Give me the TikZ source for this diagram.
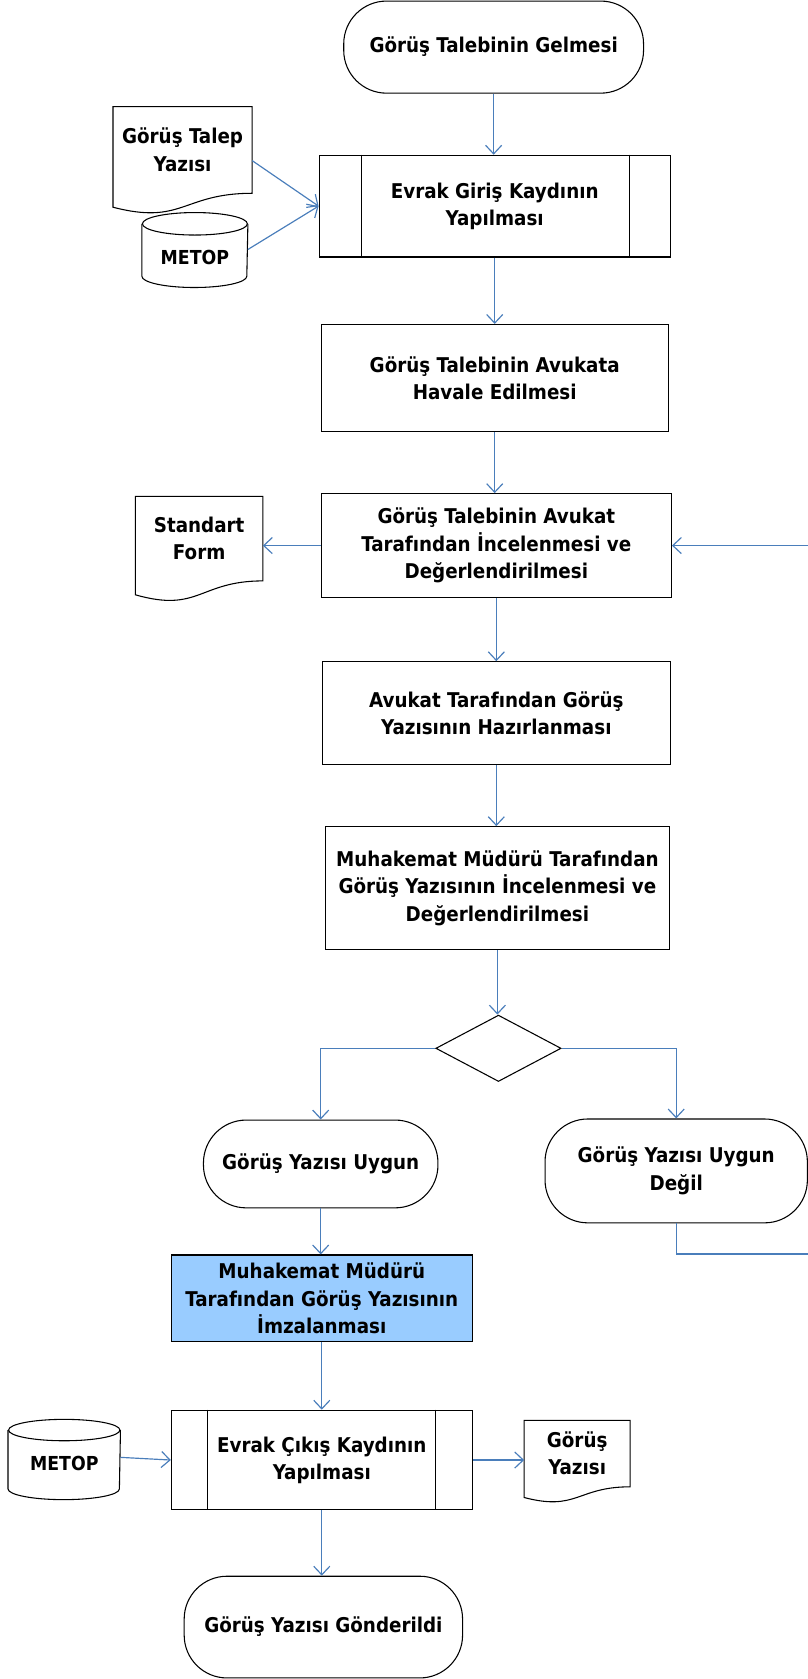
\documentclass[tikz,border=0pt]{standalone}
\usepackage{fontspec}
\setmainfont{DejaVu Sans Condensed}
\usetikzlibrary{arrows.meta,shapes.geometric}
\definecolor{akismavi}{HTML}{4A7EBB}
\definecolor{imzamavi}{HTML}{99CCFF}

\begin{document}
\begin{tikzpicture}[x=1pt, y=-1pt, line width=1pt,
    font=\bfseries\fontsize{19}{25.5}\selectfont,
    surec/.style={draw, rectangle, align=center, inner sep=0pt},
    uc/.style={draw, rectangle, rounded corners=40pt, align=center, inner sep=0pt},
    belge/.style={rectangle, align=center, inner sep=0pt},
    karar/.style={draw, diamond, inner sep=0pt},
    akis/.style={draw=akismavi, line width=1.1pt, -{Straight Barb[length=8pt,width=15pt]}}]
    \useasboundingbox (0,0) rectangle (754,1568);
    % Define nodes
    \node (basla) [uc, minimum width=280pt, minimum height=86pt] at (461,44) {Görüş Talebinin Gelmesi};
    \node (talep) [belge, minimum width=129pt, minimum height=80pt] at (170.5,140) {Görüş Talep\\Yazısı};
    \node (metopA) [belge, minimum width=98pt, minimum height=56pt, font=\bfseries\fontsize{18}{20}\selectfont] at (182,240) {METOP};
    \node (giris) [surec, minimum width=328pt, minimum height=95pt] at (462,192.5) {Evrak Giriş Kaydının\\Yapılması};
    \node (havale) [surec, minimum width=324pt, minimum height=100pt] at (462,353) {Görüş Talebinin Avukata\\Havale Edilmesi};
    \node (inceleme) [surec, minimum width=327pt, minimum height=97pt] at (463.5,509.5) {Görüş Talebinin Avukat\\Tarafından İncelenmesi ve\\Değerlendirilmesi};
    \node (standart) [belge, minimum width=118pt, minimum height=78pt] at (186,503) {Standart\\Form};
    \node (hazirlama) [surec, minimum width=325pt, minimum height=96pt] at (463.5,666) {Avukat Tarafından Görüş\\Yazısının Hazırlanması};
    \node (mudur) [surec, minimum width=321pt, minimum height=115pt] at (464.5,829.5) {Muhakemat Müdürü Tarafından\\Görüş Yazısının İncelenmesi ve\\Değerlendirilmesi};
    \node (karar) [karar, minimum width=117pt, minimum height=62pt] at (465.5,979) {};
    \node (uygun) [uc, minimum width=219pt, minimum height=82pt] at (299.5,1087) {Görüş Yazısı Uygun};
    \node (degil) [uc, minimum width=245pt, minimum height=97pt] at (631.5,1093.5) {Görüş Yazısı Uygun\\Değil};
    \node (imza) [surec, fill=imzamavi, minimum width=281pt, minimum height=81pt] at (300.5,1212.5) {Muhakemat Müdürü\\Tarafından Görüş Yazısının\\İmzalanması};
    \node (cikis) [surec, minimum width=281pt, minimum height=93pt] at (300.5,1363.5) {Evrak Çıkış Kaydının\\Yapılması};
    \node (metopB) [belge, minimum width=104pt, minimum height=66pt, font=\bfseries\fontsize{18}{20}\selectfont] at (60,1367) {METOP};
    \node (gyazi) [belge, minimum width=98pt, minimum height=61pt] at (539,1357.5) {Görüş\\Yazısı};
    \node (gonder) [uc, minimum width=260pt, minimum height=95pt] at (302,1519.5) {Görüş Yazısı Gönderildi};
    \coordinate (donus) at (775,1171);

    % Draw extra shape lines
    \draw ([xshift=40pt]giris.north west) -- ([xshift=40pt]giris.south west);
    \draw ([xshift=-39pt]giris.north east) -- ([xshift=-39pt]giris.south east);
    \draw ([xshift=34pt]cikis.north west) -- ([xshift=34pt]cikis.south west);
    \draw ([xshift=-35pt]cikis.north east) -- ([xshift=-35pt]cikis.south east);
    \draw (talep.north west) -- (talep.north east) -- (talep.south east) .. controls (talep.south) and ([yshift=-30pt]talep.south) .. ([yshift=-13pt]talep.south west) -- cycle;
    \draw (standart.north west) -- (standart.north east) -- (standart.south east) .. controls (standart.south) and ([yshift=-30pt]standart.south) .. ([yshift=-13pt]standart.south west) -- cycle;
    \draw (gyazi.north west) -- (gyazi.north east) -- (gyazi.south east) .. controls (gyazi.south) and ([yshift=-23pt]gyazi.south) .. ([yshift=-10pt]gyazi.south west) -- cycle;
    \draw ([yshift=2.5pt]metopA.north west) -- ([yshift=10.5pt]metopA.south west) arc[start angle=180, end angle=360, x radius=49pt, y radius=10.5pt] -- ([yshift=2.5pt]metopA.north east);
    \draw ([yshift=2.5pt]metopA.north) ellipse [x radius=49pt, y radius=10.5pt];
    \draw ([yshift=-2pt]metopB.north west) -- ([yshift=10pt]metopB.south west) arc[start angle=180, end angle=360, x radius=52pt, y radius=10pt] -- ([yshift=-2pt]metopB.north east);
    \draw ([yshift=-2pt]metopB.north) ellipse [x radius=52pt, y radius=10pt];

    % Draw arrows
    \draw[akis] (basla.south) -- (basla.south |- giris.north);
    \draw[akis] ([yshift=-10pt]talep.east) -- (giris.west);
    \draw[akis] ([yshift=7pt]metopA.east) -- (giris.west);
    \draw[akis] (giris.south) -- (giris.south |- havale.north);
    \draw[akis] (havale.south) -- (havale.south |- inceleme.north);
    \draw[akis] (inceleme.west) -- (inceleme.west -| standart.east);
    \draw[akis] (inceleme.south) -- (inceleme.south |- hazirlama.north);
    \draw[akis] (hazirlama.south) -- (hazirlama.south |- mudur.north);
    \draw[akis] (mudur.south) -- (mudur.south |- karar.north);
    \draw[akis] (karar.west) -| (uygun.north);
    \draw[akis] (karar.east) -| (degil.north);
    \draw[akis] (degil.south) |- (donus) |- (inceleme.east);
    \draw[akis] (uygun.south) -- (uygun.south |- imza.north);
    \draw[akis] (imza.south) -- (imza.south |- cikis.north);
    \draw[akis] ([yshift=6pt]metopB.east) -- (cikis.west);
    \draw[akis] (cikis.east) -- (cikis.east -| gyazi.west);
    \draw[akis] (cikis.south) -- (cikis.south |- gonder.north);
\end{tikzpicture}
\end{document}
